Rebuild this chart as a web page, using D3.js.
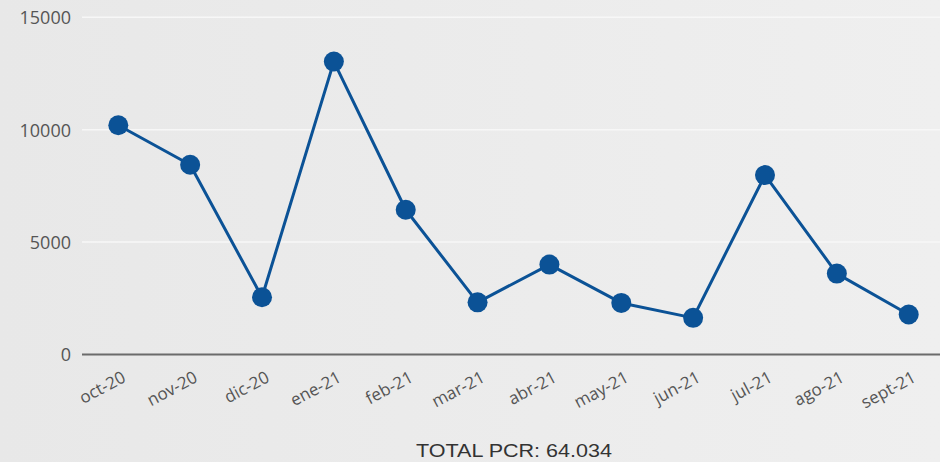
<!DOCTYPE html>
<html><head><meta charset="utf-8">
<script src="https://cdn.jsdelivr.net/npm/d3@7"></script>
<style>
html,body{margin:0;padding:0;background:#ebebeb;}
svg{display:block;}
</style></head>
<body>
<svg id="chart" width="940" height="462"></svg>
<script>
const months = ["oct-20","nov-20","dic-20","ene-21","feb-21","mar-21","abr-21","may-21","jun-21","jul-21","ago-21","sept-21"];
const pcrValues = [10200, 8440, 2545, 13030, 6440, 2320, 4000, 2295, 1630, 7980, 3600, 1780];
const yTicks = [0, 5000, 10000, 15000];
const totalLabel = "TOTAL PCR: 64.034";

const W = 940, H = 462;
const svg = d3.select("#chart");

const defs = svg.append("defs");
const grad = defs.append("linearGradient").attr("id","bg").attr("x1","0").attr("x2","1").attr("y1","0").attr("y2","0");
grad.append("stop").attr("offset","0").attr("stop-color","#e8e8e8");
grad.append("stop").attr("offset","1").attr("stop-color","#efefef");
svg.append("rect").attr("width",W).attr("height",H).attr("fill","url(#bg)");

const x = d3.scalePoint().domain(months).range([118.3, 908.7]);
const y = d3.scaleLinear().domain([0, 15000]).range([354.5, 17.3]);

// gridlines
svg.append("g").selectAll("line").data(yTicks.filter(d => d > 0)).join("line")
  .attr("x1", 82).attr("x2", W)
  .attr("y1", d => y(d)).attr("y2", d => y(d))
  .attr("stroke", "#f7f7f7").attr("stroke-width", 1.5);

// y axis labels
const yAxis = d3.axisLeft(y).tickValues(yTicks).tickSize(0).tickPadding(0).tickFormat(d3.format("d"));
const yg = svg.append("g").attr("transform","translate(71,0)").call(yAxis);
yg.select(".domain").remove();
yg.selectAll("text").attr("font-family","'Open Sans', sans-serif").attr("font-size",18).attr("fill","#555").attr("dy","0.35em");

// baseline
svg.append("line").attr("x1",82).attr("x2",W).attr("y1",y(0)).attr("y2",y(0))
  .attr("stroke","#6b6b6b").attr("stroke-width",2);

// x axis labels
const xAxis = d3.axisBottom(x).tickSize(0).tickPadding(0);
const xg = svg.append("g").attr("transform",`translate(0,${y(0)})`).call(xAxis);
xg.select(".domain").remove();
xg.selectAll("text")
  .attr("font-family","'Open Sans', sans-serif").attr("font-size",17).attr("fill","#555")
  .attr("text-anchor","end").attr("dy",0).attr("y",0)
  .attr("transform","translate(8,26.5) rotate(-28)");

// line
const line = d3.line().x((d,i) => x(months[i])).y(d => y(d));
svg.append("path").datum(pcrValues).attr("d", line)
  .attr("fill","none").attr("stroke","#0b5296").attr("stroke-width",3).attr("stroke-linejoin","round");

svg.append("g").selectAll("circle").data(pcrValues).join("circle")
  .attr("cx",(d,i) => x(months[i])).attr("cy", d => y(d)).attr("r",10)
  .attr("fill","#0b5296");

// total label
svg.append("text").attr("x",416).attr("y",456.5)
  .attr("font-family","'Liberation Sans', Arial, sans-serif").attr("font-size",18.5)
  .attr("textLength",196).attr("lengthAdjust","spacingAndGlyphs")
  .attr("fill","#333").text(totalLabel);
</script>
</body></html>
